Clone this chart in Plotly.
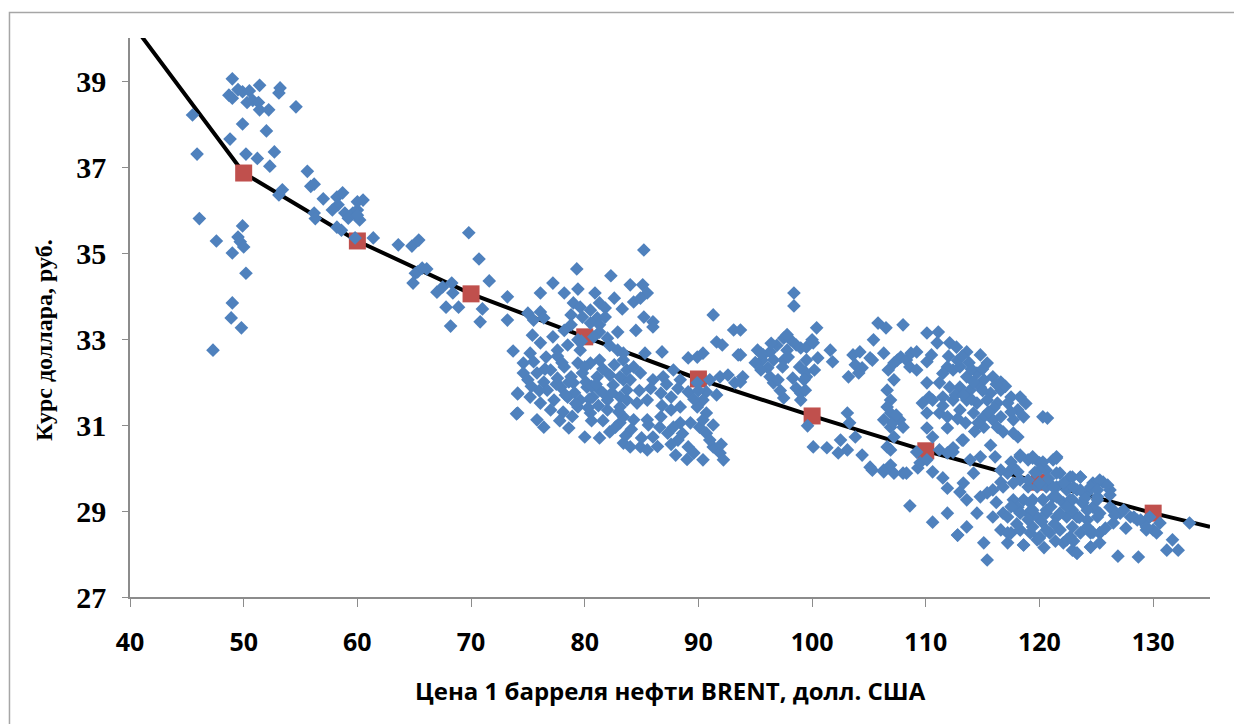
import plotly.graph_objects as go

# ---------------- data ----------------
# Fitted curve (black line) and its marked points (red squares)
LINE_X = [40, 50, 60, 70, 80, 90, 100, 110, 120, 130, 135]
LINE_Y = [40.4, 36.86, 35.28, 34.05, 33.05, 32.07, 31.21, 30.40, 29.67, 28.95, 28.63]
MARK_X = [50, 60, 70, 80, 90, 100, 110, 120, 130]
MARK_Y = [36.86, 35.28, 34.05, 33.05, 32.07, 31.21, 30.40, 29.67, 28.95]

# Observations (Brent price, RUB/USD rate), grouped by price range
OBS_45_57 = [(45.5,38.21),(45.9,37.3),(46.1,35.8),(47.6,35.28),(47.3,32.74),(49.0,39.05),(48.7,38.67),
    (49.0,38.6),(49.5,38.8),(49.9,38.75),(50.5,38.77),(50.3,38.5),(50.8,38.55),(51.3,38.5),(51.4,38.9),
    (51.4,38.33),(52.2,38.33),(53.2,38.84),(53.1,38.72),(54.6,38.4),(48.8,37.65),(49.9,38.0),(50.2,37.3),
    (51.2,37.2),(52.0,37.84),(52.7,37.35),(52.3,37.02),(55.6,36.9),(55.9,36.55),(56.2,36.6),(53.1,36.35),
    (53.4,36.47),(57.0,36.26),(56.2,35.93),(56.3,35.8),(49.9,35.63),(49.5,35.37),(49.7,35.26),(50.0,35.14),
    (49.0,35.0),(50.2,34.53),(49.0,33.84),(48.9,33.49),(49.8,33.26)]

OBS_58_73 = [(58.2,36.3),(58.7,36.4),(58.3,36.12),(58.9,35.93),(57.8,36.0),(59.2,35.81),(59.6,35.93),
    (60.0,36.0),(60.2,35.77),(60.5,36.23),(60.0,36.19),(58.2,35.6),(58.6,35.53),(59.8,35.35),(61.4,35.35),
    (63.6,35.19),(64.8,35.16),(65.4,35.3),(65.1,34.53),(64.9,34.3),(65.3,34.56),(65.7,34.65),(66.1,34.63),
    (69.8,35.47),(70.7,34.86),(71.6,34.35),(67.0,34.09),(67.5,34.21),(68.3,34.3),(68.4,34.07),(67.8,33.74),
    (68.9,33.74),(68.2,33.3),(71.0,33.7),(70.8,33.4),(73.2,33.98),(73.2,33.44),(60.0,35.88)]

OBS_74_94 = [(73.7,32.72),(74.1,31.72),(74.0,31.26),(75.0,33.6),(75.5,33.44),(76.1,33.63),(76.4,33.49),
    (76.1,34.07),(77.2,34.3),(78.2,34.07),(79.3,34.63),(79.4,34.16),(80.9,34.07),(82.3,34.47),(82.6,33.95),
    (84.0,34.26),(85.1,34.26),(85.5,34.07),(84.3,33.86),(84.9,33.95),(85.2,35.07),(85.2,33.51),(86.0,33.4),
    (86.0,33.28),(82.9,33.16),(91.3,33.56),(93.1,33.21),(93.7,33.21),(91.6,32.93),(92.1,32.86),(93.5,32.63),
    (86.8,32.7),(85.3,32.67),(89.1,32.56),(89.9,32.58),(90.4,32.67),(93.9,32.12),(91.9,32.12),(92.6,32.16),
    (90.7,31.77),
    (79.0,33.84),(79.6,33.74),(80.5,33.67),(81.3,33.84),(81.8,33.72),(78.8,33.56),(79.8,33.51),(81.1,33.49),
    (81.8,33.51),(78.8,33.33),(80.5,33.37),(81.3,33.33),(82.0,33.02),(81.3,33.16),
    (75.4,33.09),(76.1,32.91),(75.2,32.67),(74.6,32.44),(75.5,32.47),(76.6,32.58),(77.6,32.74),(78.5,32.86),
    (79.4,32.98),(79.6,32.74),
    (74.6,32.21),(75.8,32.21),(77.0,32.28),(78.2,32.35),(79.4,32.44),(80.5,32.44),(81.3,32.51),(82.9,32.74),
    (83.4,32.51),(83.7,32.28),
    (75.0,32.05),(76.4,32.0),(77.6,32.09),(78.8,32.12),(79.8,32.21),(81.1,32.12),(82.2,32.16),(83.4,32.05),
    (74.1,31.74),(75.2,31.65),(76.7,31.81),(77.9,31.88),(79.0,31.98),(80.2,31.88),(81.3,31.81),(82.5,31.93),
    (83.7,31.81),
    (76.1,31.51),(77.3,31.58),(78.5,31.65),(79.6,31.58),(80.7,31.65),(82.0,31.58),(83.1,31.65),
    (74.1,31.28),(77.0,31.35),(79.4,31.42),(80.5,31.28),(82.0,31.35),(83.1,31.42),
    (75.8,31.12),(76.4,30.95),(78.6,30.93),(80.0,30.72),(81.3,30.7),(82.2,30.84),(83.1,31.05),(83.4,30.58),
    (83.1,32.12),(84.0,32.05),(84.9,32.21),(86.0,32.05),(86.9,32.12),(87.8,32.28),(88.4,32.05),(89.1,31.77),
    (89.9,31.98),(91.0,32.05),(90.4,31.58),(89.9,31.42),(90.7,31.28),(90.1,30.95),(90.7,30.81),(89.3,31.05),
    (88.4,31.42),(87.6,31.65),(86.7,31.74),(85.5,31.58),(84.6,31.51),(83.7,31.58),(83.4,31.19),(84.3,31.12),
    (85.5,31.12),(86.7,31.19),(87.6,31.35),(88.4,31.05),(87.3,30.81),(86.0,30.72),(84.9,30.49),(84.0,30.49),
    (85.5,30.42),(88.2,30.65),(89.1,30.49),(89.6,30.35),(90.4,30.19),(91.3,30.49),(91.9,30.35),(92.2,30.19),
    (91.0,30.65),(90.4,31.12),(83.4,32.67),(84.3,32.35),(93.2,31.98),
    (77.6,32.6),(78.6,32.0),(80.1,32.0),(80.6,31.9),(81.6,32.3),(82.6,32.4),(79.1,31.75),(80.4,31.6),
    (81.6,31.75),(78.1,31.3),(80.6,31.1),(81.6,31.1),(84.1,30.9),(85.6,31.0),(86.6,30.95),(87.6,30.55),
    (88.6,30.8),(86.4,30.5),(83.6,30.75),(79.7,32.95),
    (76.5,32.3),(77.5,31.95),(78.3,31.7),(79.2,31.5),(80.3,31.4),(81.2,31.45),(82.4,31.75),(83.0,31.3),
    (77.8,31.1),(78.9,31.2),(84.8,31.8),(85.8,31.85),(86.8,31.45),(87.8,30.95),(89.0,30.2),(88.0,30.3),
    (85.0,30.7),(82.7,30.95),(81.0,31.95),(80.0,32.35),(78.0,32.45),(76.0,31.8),(75.3,31.9),(77.2,33.05),
    (78.2,33.2),(80.8,33.05),(82.2,32.85),(84.5,33.2),(83.3,33.7),(87.2,31.95),(88.2,31.85),(89.6,31.6),
    (90.0,31.8),(91.6,31.7),(91.3,31.0),(92.0,30.55)]

OBS_94_111 = [(98.4,34.07),(98.4,33.77),(95.2,32.74),(95.7,32.63),(96.3,32.7),(96.6,32.51),(95.6,32.51),
    (96.1,32.33),(95.5,32.28),(96.3,32.12),(96.6,31.98),(97.0,32.05),(97.5,33.02),(98.1,32.98),(98.6,32.86),
    (97.8,32.74),(97.5,32.51),(97.4,32.35),(97.9,32.58),(99.0,32.79),(99.5,32.81),(100.0,32.98),(100.4,33.26),
    (100.5,32.56),(99.5,32.51),(100.2,32.28),(99.4,32.23),(99.5,32.12),(98.3,32.09),(98.6,31.86),(99.0,31.74),
    (99.4,31.81),(99.0,31.58),(97.5,31.63),(101.6,32.74),(101.8,32.47),(99.6,30.98),(100.1,30.49),(101.3,30.47),
    (102.5,30.65),(103.1,30.42),(102.3,30.35),(103.8,30.72),(103.3,31.05),(103.1,31.28),(104.4,30.3),
    (105.1,30.02),(105.3,29.95),(93.7,32.63),(93.7,32.0),(95.5,32.67),(97.8,33.1),(100.1,32.91),(99.3,32.05),
    (103.2,32.12),(103.6,32.63),(104.2,32.7),(103.8,32.4),(104.4,32.33),(104.1,32.21),(105.3,32.51),
    (105.4,32.98),(105.8,33.37),(106.5,33.26),(106.3,32.67),(106.7,32.28),(107.2,32.05),(107.5,32.51),
    (106.6,31.81),(106.9,31.58),(106.6,31.42),(106.9,31.28),(106.3,31.12),(106.9,30.95),(107.2,30.72),
    (106.6,30.49),(106.9,30.42),(106.3,29.95),(107.2,29.88),(106.9,30.07),(108.0,33.33),(105.1,32.56),
    (107.8,32.58),(107.2,32.44),(108.3,32.51),(108.7,32.67),(109.2,32.7),(108.6,32.35),(109.2,32.28),
    (110.1,32.47),(110.5,32.63),(110.1,33.14),(111.1,33.16),(111.0,32.91),(107.7,31.12),(108.0,30.95),
    (107.1,31.05),(107.4,31.23),(96.9,32.85),(95.0,32.45),(98.9,32.35),(97.2,31.8),(96.4,32.9)]

OBS_110_121_UPPER = [(112.1,32.91),(112.7,32.81),(113.6,32.7),(114.8,32.63),(115.4,32.44),(111.9,32.35),
    (112.4,32.28),(113.0,32.35),(113.6,32.12),(114.5,32.21),(115.1,32.05),(115.9,32.12),(116.6,32.0),
    (111.2,31.98),(112.1,31.88),(113.0,31.88),(113.9,31.81),(114.8,31.88),(115.7,31.74),(116.6,31.81),
    (117.5,31.65),(118.3,31.65),(110.1,31.98),(110.3,31.65),(109.7,31.51),(110.6,31.58),(111.5,31.65),
    (112.4,31.58),(113.6,31.58),(114.5,31.51),(115.4,31.58),(116.3,31.51),(117.2,31.51),(118.1,31.35),
    (118.6,31.19),(110.1,31.28),(111.2,31.28),(111.9,31.19),(113.0,31.35),(114.2,31.28),(115.1,31.19),
    (115.9,31.12),(116.6,31.19),(117.7,31.12),(110.1,30.93),(110.6,30.72),(111.9,30.93),(115.1,30.95),
    (116.3,30.95),(116.8,30.84),(117.7,30.81),(118.1,30.72),(120.3,31.19),(120.7,31.16),(113.3,30.65),
    (112.4,30.37),(112.8,32.5),(113.8,32.45),(114.2,32.0),(112.6,31.7),(114.0,31.6),(115.0,31.8),
    (116.0,31.4),(113.5,31.05),(114.6,31.05),(111.5,32.2),(117.0,31.9),(118.8,31.5),
    (112.0,32.6),(113.2,32.6),(114.0,32.3),(115.0,32.3),(116.2,31.95),(113.3,31.7),(115.5,31.3),
    (117.5,31.3),(111.5,31.45),(112.8,31.15),(114.3,30.85)]

OBS_106_117_LOWER = [(106.3,29.91),(108.0,29.88),(108.3,29.88),(109.3,30.0),(109.2,30.37),(109.5,30.12),
    (110.1,30.19),(110.6,29.91),(111.5,29.77),(111.9,29.53),(113.0,29.44),(113.6,29.26),(112.8,28.44),
    (108.6,29.12),(110.6,28.74),(111.9,28.95),(113.3,29.65),(113.2,30.65),(111.2,30.42),(111.9,30.35),
    (112.4,30.47),(113.9,30.19),(114.2,29.88),(114.8,30.26),(115.7,30.53),(116.1,30.26)]

OBS_113_134 = [(116.6,29.67),(115.9,29.49),(115.4,29.42),(114.8,29.33),(117.2,29.88),(117.7,30.02),
    (118.3,30.26),(119.0,30.19),(119.4,30.26),(120.0,30.12),(120.6,29.95),(121.2,30.19),(121.5,30.26),
    (121.8,29.88),(122.7,29.79),(123.6,29.79),(124.7,29.65),(125.6,29.67),(126.2,29.49),(118.3,29.72),
    (119.0,29.56),(119.8,29.56),(120.6,29.56),(121.5,29.56),(122.4,29.49),(123.3,29.49),(124.2,29.42),
    (125.1,29.33),(117.7,29.26),(118.6,29.26),(119.4,29.26),(120.3,29.26),(121.2,29.33),(122.1,29.19),
    (122.9,29.26),(123.8,29.19),(124.7,29.09),(126.2,29.09),(127.1,28.95),(128.0,28.86),(128.6,28.79),
    (129.4,28.79),(130.0,28.56),(130.6,28.72),(133.2,28.72),(115.9,28.86),(116.8,28.95),(118.1,29.02),
    (119.0,28.95),(119.8,28.86),(120.6,28.95),(121.5,28.86),(122.4,28.86),(123.3,28.86),(124.2,28.79),
    (125.1,28.86),(114.5,28.95),(113.6,28.63),(112.8,28.44),(115.1,28.26),(115.4,27.86),(116.6,28.56),
    (117.5,28.49),(118.3,28.56),(119.2,28.49),(120.0,28.4),(120.9,28.49),(121.8,28.56),(122.7,28.4),
    (123.6,28.49),(124.5,28.49),(125.3,28.49),(117.2,28.26),(118.6,28.21),(119.8,28.33),(122.1,28.26),
    (122.9,28.09),(123.3,28.02),(124.5,28.16),(126.9,27.95),(128.7,27.93),(131.2,28.09),(131.7,28.33),
    (132.2,28.09),(129.4,28.56)]

OBS_116_130_DENSE = [(118.3,30.3),(119.4,30.23),(120.3,30.14),(121.5,30.23),(117.5,30.14),(116.6,29.95),
    (118.1,29.91),(120.0,29.95),(121.5,29.88),(122.9,29.79),(123.6,29.79),(125.3,29.72),(126.0,29.6),
    (126.2,29.37),(116.8,29.56),(117.7,29.65),(119.0,29.72),(120.0,29.65),(121.2,29.56),(122.4,29.6),
    (123.6,29.49),(124.5,29.56),(125.1,29.49),(118.1,29.09),(119.2,29.19),(120.3,29.26),(121.5,29.33),
    (122.7,29.26),(123.8,29.19),(125.1,29.26),(117.2,28.86),(118.3,28.95),(119.4,29.02),(120.6,29.02),
    (121.8,28.95),(122.9,29.02),(124.2,29.02),(125.3,28.95),(126.5,29.02),(127.4,29.02),(128.3,28.86),
    (128.9,28.79),(129.7,28.86),(117.2,28.49),(118.3,28.56),(119.4,28.63),(120.6,28.56),(121.8,28.56),
    (122.9,28.63),(124.2,28.63),(125.3,28.49),(126.5,28.72),(129.4,28.63),(130.3,28.49),(118.6,28.21),
    (120.0,28.37),(122.4,28.33),(123.3,28.02),(124.5,28.16),(125.3,28.26),
    (119.6,29.9),(120.8,29.75),(122.1,29.65),(123.0,29.55),(124.0,29.3),(121.0,29.1),(122.4,29.1),
    (123.5,28.85),(124.7,28.5),(121.3,28.7),(120.2,28.75),(119.0,28.8),(118.0,28.7),(117.5,29.1),
    (116.2,29.2),(125.8,28.6),(126.6,28.9),(127.6,28.6),(123.0,28.3),(121.4,28.3),(120.4,28.15)]

X_TICKS = [40, 50, 60, 70, 80, 90, 100, 110, 120, 130]
Y_TICKS = [27, 29, 31, 33, 35, 37, 39]
X_TITLE = "Цена 1 барреля нефти BRENT, долл. США"
Y_TITLE = "Курс доллара, руб."

# ---------------- figure ----------------
groups = [OBS_45_57, OBS_58_73, OBS_74_94, OBS_94_111, OBS_110_121_UPPER,
          OBS_106_117_LOWER, OBS_113_134, OBS_116_130_DENSE]
obs = [p for g in groups for p in g]
obs_x = [p[0] for p in obs]
obs_y = [p[1] for p in obs]

fig = go.Figure()
fig.add_trace(go.Scatter(x=LINE_X, y=LINE_Y, mode="lines",
                         line=dict(color="black", width=4), hoverinfo="skip"))
fig.add_trace(go.Scatter(x=MARK_X, y=MARK_Y, mode="markers",
                         marker=dict(symbol="square", size=17, color="#C0504D")))
fig.add_trace(go.Scatter(x=obs_x, y=obs_y, mode="markers",
                         marker=dict(symbol="diamond", size=10.5, color="#4F81BD")))

axis_col = "#8C8C8C"
fig.update_xaxes(range=[40, 135], tickvals=X_TICKS, showline=True, linecolor=axis_col,
                 linewidth=1.5, ticks="outside", ticklen=8, tickcolor=axis_col, tickwidth=1.3,
                 showgrid=False, zeroline=False, ticklabelstandoff=14, automargin=False,
                 tickfont=dict(family="Open Sans", size=25, color="black", weight="bold"))
fig.update_yaxes(range=[27, 40], tickvals=Y_TICKS, showline=True, linecolor=axis_col,
                 linewidth=1.5, ticks="outside", ticklen=6, tickcolor=axis_col, tickwidth=1.3,
                 showgrid=False, zeroline=False, ticklabelstandoff=10, automargin=False,
                 tickfont=dict(family="Liberation Serif", size=30, color="black", weight="bold"))

fig.add_annotation(text=X_TITLE, xref="paper", yref="paper", x=0.5, y=-0.168,
                   xanchor="center", yanchor="middle", showarrow=False,
                   font=dict(family="Open Sans", size=24, color="black", weight="bold"))
fig.add_annotation(text=Y_TITLE, xref="paper", yref="paper", x=-0.0796, y=0.46,
                   xanchor="center", yanchor="middle", showarrow=False, textangle=-90,
                   font=dict(family="Liberation Serif", size=24, color="black", weight="bold"))

fig.add_shape(type="rect", xref="paper", yref="paper", x0=-0.1116, x1=1.06, y0=-0.26, y1=1.0456,
              line=dict(color="#A6A6A6", width=1.5), fillcolor="rgba(0,0,0,0)", layer="below")

# the page body adds an 8 px offset, so the figure is 8 px smaller and margins shifted
fig.update_layout(width=1234, height=716, margin=dict(l=122, r=32, t=30, b=127),
                  paper_bgcolor="white", plot_bgcolor="white", showlegend=False)

fig.write_html("out.html")
